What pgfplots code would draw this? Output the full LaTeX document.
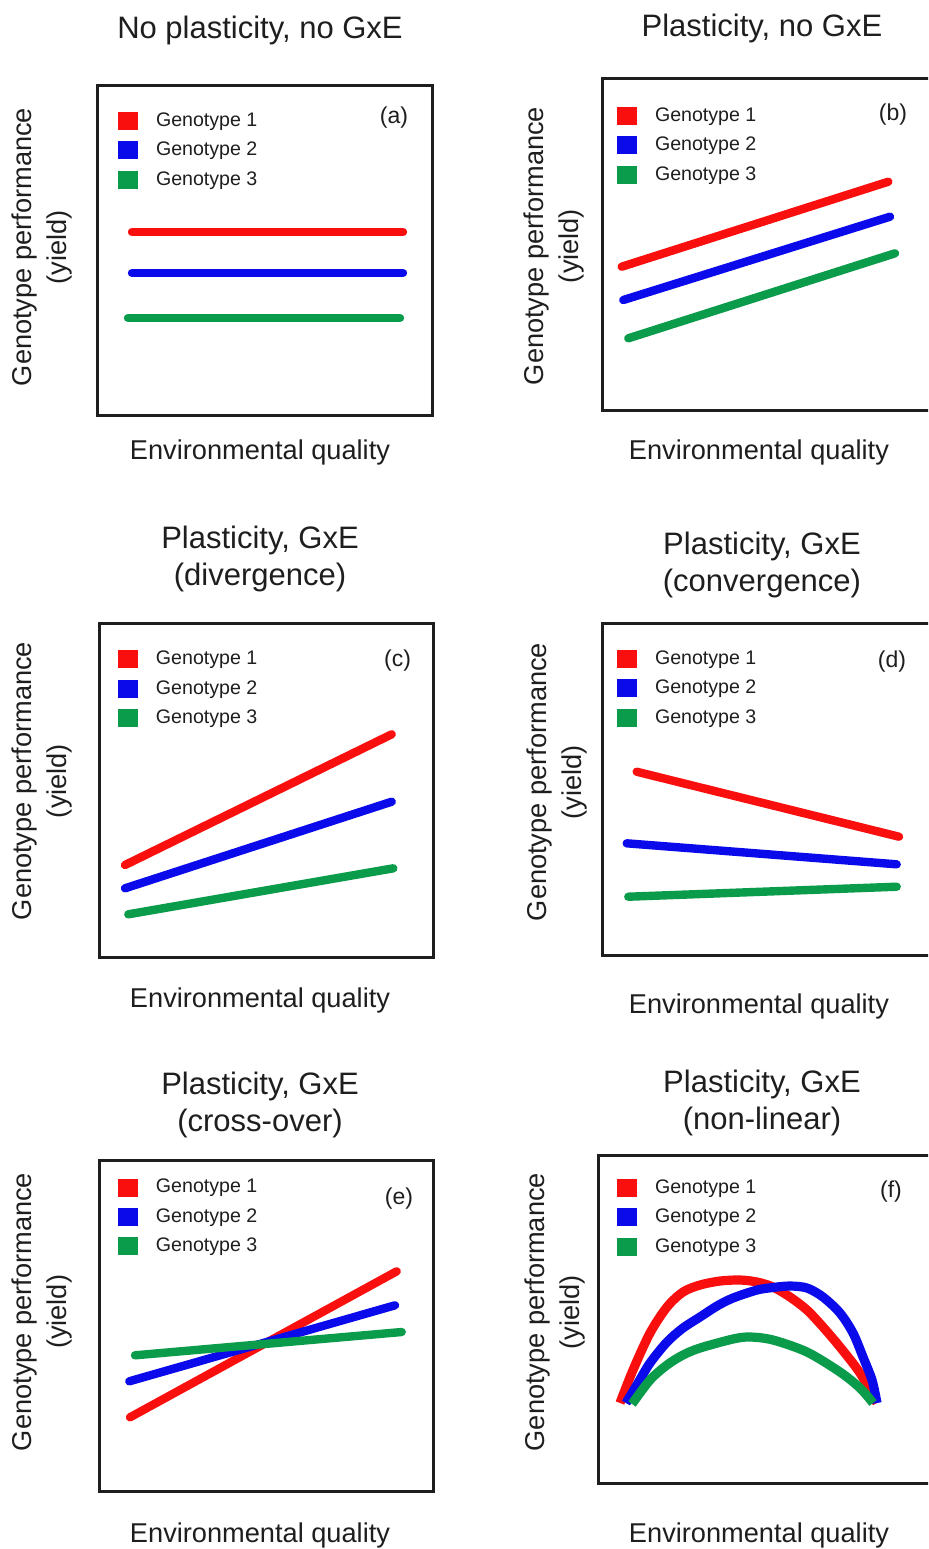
\documentclass[border=0pt]{standalone}
\usepackage{fontspec}
\setmainfont{Liberation Sans}
\usepackage{pgfplots}
\pgfplotsset{compat=1.18}
\definecolor{gred}{RGB}{250,15,15}
\definecolor{gblue}{RGB}{10,10,235}
\definecolor{ggreen}{RGB}{10,155,75}
\definecolor{boxc}{RGB}{30,30,30}
\definecolor{txt}{RGB}{30,30,30}
\tikzset{letter/.style={font=\fontsize{11.5}{13}\selectfont, text=txt}}
\pgfplotsset{
 panel/.style={
  anchor=south west, scale only axis, xmin=0, ymin=0,
  xtick=\empty, ytick=\empty,
  axis line style={line width=1.5pt, draw=boxc},
  title style={font=\fontsize{15.5}{18.5}\selectfont, text=txt, align=center, anchor=south, inner sep=0pt, yshift=-7.5pt},
  xlabel style={font=\fontsize{13.6}{17.5}\selectfont, text=txt, anchor=base, inner sep=0pt},
  ylabel style={font=\fontsize{13.6}{17.5}\selectfont, text=txt, align=center, anchor=south, inner sep=0pt},
  xlabel={Environmental quality},
  ylabel={Genotype performance\\(yield)},
  legend cell align=left,
  legend style={draw=none, fill=none, inner sep=0pt, outer sep=0pt, anchor=north west, yshift=-1pt,
    font=\fontsize{9.8}{11}\selectfont, text=txt, row sep=5.7pt, column sep=0pt,
    nodes={inner sep=0pt}},
  legend image code/.code={\fill[##1, draw=none] (0pt,-4.5pt) rectangle (10pt,4.5pt); \path[draw=none, fill=none] (0pt,0pt) -- (19pt,0pt);},
 },
 g/.style={line width=4.2pt, line cap=round},
 gf/.style={line width=4.6pt, line cap=butt, smooth},
}
\begin{document}
\begin{tikzpicture}
\useasboundingbox (0,0) rectangle (464pt,-774.5pt);
\clip (0,0) rectangle (464pt,-774.5pt);

% (a)
\begin{axis}[panel, at={(49pt,-207.5pt)}, width=167pt, height=165pt, xmax=334, ymax=330,
  title={No plasticity, no GxE},
  title style={at={(axis description cs:0.485,1.1288)}},
  xlabel style={at={(axis description cs:0.485,-0.1333)}},
  ylabel style={at={(axis description cs:-0.0749,0.509)}},
  legend style={at={(axis description cs:0.0599,0.9242)}}]
\addplot[g, gred] coordinates {(34,183) (305,183)};
\addplot[g, gblue] coordinates {(34,142) (305,142)};
\addplot[g, ggreen] coordinates {(30,97) (302,97)};
\legend{Genotype 1,Genotype 2,Genotype 3}
\node[letter] at (axis description cs:0.886,0.9) {(a)};
\end{axis}

% (b)
\begin{axis}[panel, at={(301pt,-205pt)}, width=164.5pt, height=166pt, xmax=329, ymax=332,
  title={Plasticity, no GxE},
  title style={at={(axis description cs:0.4863,1.1130)}},
  xlabel style={at={(axis description cs:0.477,-0.1476)}},
  ylabel style={at={(axis description cs:-0.0517,0.494)}},
  legend style={at={(axis description cs:0.0456,0.9187)}}]
\addplot[g, gred] coordinates {(19.7,143.3) (286.3,228.3)};
\addplot[g, gblue] coordinates {(21.3,110) (288,193.3)};
\addplot[g, ggreen] coordinates {(26.3,71.7) (293,156.7)};
\legend{Genotype 1,Genotype 2,Genotype 3}
\node[letter] at (axis description cs:0.8845,0.8886) {(b)};
\end{axis}

% (c)
\begin{axis}[panel, at={(50pt,-478.5pt)}, width=166.5pt, height=167pt, xmax=333, ymax=334,
  title={Plasticity, GxE\\(divergence)},
  title style={at={(axis description cs:0.4805,1.1003)}},
  xlabel style={at={(axis description cs:0.4805,-0.1497)}},
  ylabel style={at={(axis description cs:-0.0811,0.527)}},
  legend style={at={(axis description cs:0.054,0.9237)}}]
\addplot[g, gred] coordinates {(25,92) (291.7,222.7)};
\addplot[g, gblue] coordinates {(25,68.7) (291.7,155.3)};
\addplot[g, ggreen] coordinates {(28.3,42.7) (293.3,88.7)};
\legend{Genotype 1,Genotype 2,Genotype 3}
\node[letter] at (axis description cs:0.8934,0.8862) {(c)};
\end{axis}

% (d)
\begin{axis}[panel, at={(301pt,-477.5pt)}, width=164.5pt, height=166pt, xmax=329, ymax=332,
  title={Plasticity, GxE\\(convergence)},
  title style={at={(axis description cs:0.4863,1.0828)}},
  xlabel style={at={(axis description cs:0.477,-0.1747)}},
  ylabel style={at={(axis description cs:-0.0426,0.521)}},
  legend style={at={(axis description cs:0.0456,0.9247)}}]
\addplot[g, gred] coordinates {(34.7,183.3) (297,118.3)};
\addplot[g, gblue] coordinates {(24.7,111.7) (294.7,90.7)};
\addplot[g, ggreen] coordinates {(26.3,58.3) (294.7,68.3)};
\legend{Genotype 1,Genotype 2,Genotype 3}
\node[letter] at (axis description cs:0.8815,0.8825) {(d)};
\end{axis}

% (e)
\begin{axis}[panel, at={(50pt,-745.5pt)}, width=166.5pt, height=165.5pt, xmax=333, ymax=331,
  title={Plasticity, GxE\\(cross-over)},
  title style={at={(axis description cs:0.4805,1.0740)}},
  xlabel style={at={(axis description cs:0.4805,-0.1541)}},
  ylabel style={at={(axis description cs:-0.0811,0.541)}},
  legend style={at={(axis description cs:0.054,0.9502)}}]
\addplot[g, gred] coordinates {(30,73.7) (296.7,219.7)};
\addplot[g, gblue] coordinates {(29.3,109.7) (295,185.7)};
\addplot[g, ggreen] coordinates {(35,135.7) (301.7,159)};
\legend{Genotype 1,Genotype 2,Genotype 3}
\node[letter] at (axis description cs:0.8979,0.8822) {(e)};
\end{axis}

% (f)
\begin{axis}[panel, at={(299pt,-741.5pt)}, width=166.5pt, height=164pt, xmax=333, ymax=328,
  title={Plasticity, GxE\\(non-linear)},
  title style={at={(axis description cs:0.4925,1.0655)}},
  xlabel style={at={(axis description cs:0.4835,-0.1799)}},
  ylabel style={at={(axis description cs:-0.036,0.521)}},
  legend style={at={(axis description cs:0.0571,0.9329)}}]
\addplot[gf, gred] coordinates {(22,80) (35,113) (52,150) (69,176) (85,191) (102,198) (122,202) (142,203) (159,201) (175,196) (192,186) (209,173) (225,156) (242,136) (262,110) (279,80)};
\addplot[gf, gblue] coordinates {(28,80) (40,100) (52,120) (69,141) (85,155) (102,166) (119,177) (135,185) (159,193) (175,195.5) (192,197) (209,195) (225,186) (242,170) (255,150) (265,126) (274,103) (279,80)};
\addplot[gf, ggreen] coordinates {(34,79) (52,103) (69,118) (85,128) (102,135) (135,144) (152,146) (175,143) (209,131) (242,111) (262,95) (275,80)};
\legend{Genotype 1,Genotype 2,Genotype 3}
\node[letter] at (axis description cs:0.8799,0.8872) {(f)};
\end{axis}
\end{tikzpicture}
\end{document}
